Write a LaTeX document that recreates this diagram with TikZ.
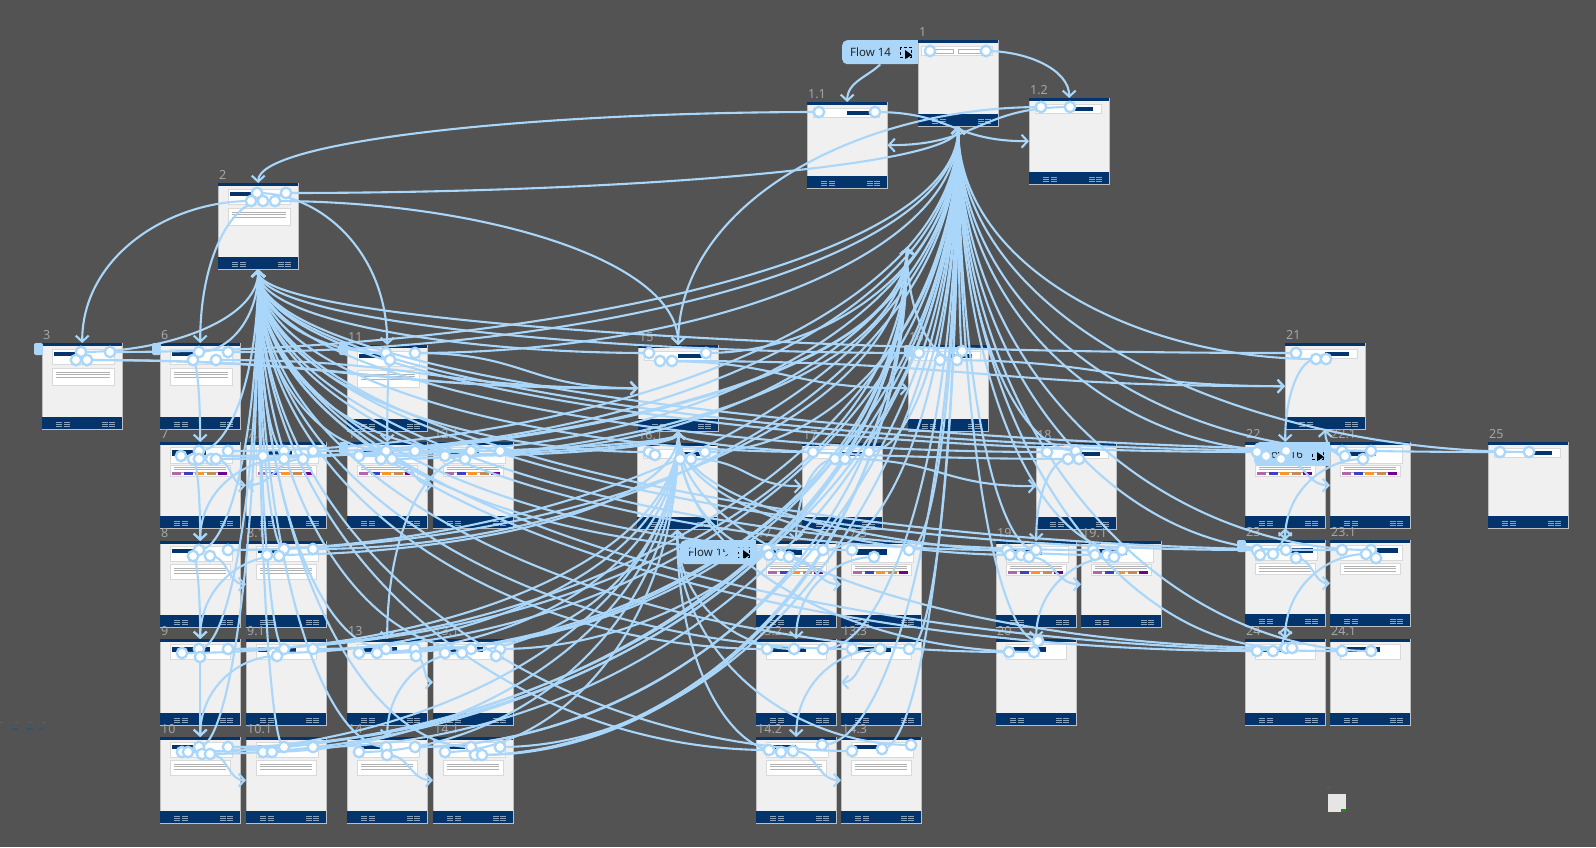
\documentclass[tikz,border=0pt]{standalone}
\usepackage{fontspec}
\setmainfont{Noto Sans}
\usetikzlibrary{calc,arrows.meta}

\definecolor{canvas}{HTML}{535353}
\definecolor{flowblue}{HTML}{A9D6F9}
\definecolor{navy}{HTML}{03346B}
\definecolor{paper}{HTML}{F0F0F0}

\pgfdeclarelayer{tiles}
\pgfdeclarelayer{links}
\pgfsetlayers{tiles,links,main}

\tikzset{
  tile/.style={rectangle,anchor=north west,fill=paper,draw=black!25,line width=.4pt,
               minimum width=80pt,minimum height=86pt,inner sep=0pt},
  tilelabel/.style={anchor=south west,text=black!35,font=\fontsize{12.5}{13}\selectfont,inner sep=0pt},
  hotspot/.style={circle,fill=white,draw=flowblue,line width=2.3pt,minimum size=10.5pt,inner sep=0pt},
  flowline/.style={draw=flowblue,line width=2.1pt,-{Straight Barb[length=6pt,width=13pt]}},
  flowbadge/.style={rectangle,rounded corners=5pt,fill=flowblue,minimum width=76pt,minimum height=24pt,
                    inner sep=0pt,anchor=north west},
  stub/.style={fill=flowblue,rounded corners=2pt},
  card/.style={fill=white,draw=black!15,line width=.3pt},
  tiny/.style={draw=white!55!navy,line width=.35pt}
}

% vertical entry at a frame edge
\newcommand{\flowlink}[2]{\draw[flowline] (#1.center) .. controls ($(#1.center)!.5!(#2 |- #1.center)$) and ($(#2)!.6!(#2 |- #1.center)$) .. (#2);}
% horizontal entry at a frame side
\newcommand{\sidelink}[2]{\draw[flowline] (#1.center) .. controls ($(#1.center)!.5!(#1.center -| #2)$) and ($(#2)!.5!(#1.center |- #2)$) .. (#2);}
\newcommand{\spots}[2]{\foreach \dx/\dy [count=\i] in {#2} {\node[hotspot] (#1h\i) at ($(#1.north west)+(\dx,\dy)$) {};}}
\newcommand{\badge}[4]{%
  \node[flowbadge] (#1) at (#2,#3) {};
  \fill[flowblue] (#2+68,#3) rectangle (#2+76,#3+24);
  \node[anchor=west,font=\fontsize{11.5}{12}\selectfont,text=black!85,inner sep=0pt] (#1-text) at (#2+8,#3+12) {#4};
  \draw[black,line width=.9pt,densely dashed] (#2+58,#3+7) rectangle (#2+69,#3+17);
  \fill[black] (#2+63,#3+10) -- (#2+63,#3+19) -- (#2+70,#3+15) -- cycle;
}

% frame contents
\newcommand{\bars}[3]{\foreach \r in {0,1,2} {\draw[black!30,line width=.4pt] (#1,#2+\r*2.5) -- (#3,#2+\r*2.5);}}
\newcommand{\carda}{\fill[card] (6,6) rectangle (72,15); \fill[navy] (40,9) rectangle (64,13);}
\newcommand{\cardg}{\fill[card] (3,6) rectangle (74,15); \draw[black!30,line width=.4pt] (15,9) rectangle (35,13) (40,9) rectangle (62,13);}
\newcommand{\cardb}{\fill[card] (10,6) rectangle (72,21); \fill[navy] (12,9) rectangle (36,13);
  \fill[card] (10,25) rectangle (72,42); \bars{14}{29}{68}}
\newcommand{\cardc}{\fill[card] (10,5) rectangle (72,21); \fill[navy] (12,8) rectangle (46,14);
  \fill[card] (10,23) rectangle (70,34); \bars{14}{25}{66}
  \foreach \col [count=\c from 0] in {violet!60,blue!50!gray,orange!85,brown!90,violet!90!blue} {\fill[\col] (12+\c*11.5,30) rectangle (21+\c*11.5,33);}}
\newcommand{\cardd}{\fill[card] (10,5) rectangle (72,20); \fill[navy] (40,8) rectangle (68,13);
  \fill[card] (10,23) rectangle (70,34); \bars{14}{26}{66}}
\newcommand{\carde}{\fill[card] (10,5) rectangle (72,20); \fill[navy] (12,8) rectangle (40,12);
  \fill[card] (10,23) rectangle (70,38); \bars{14}{27}{66}}
\newcommand{\cardf}{\fill[card] (10,5) rectangle (70,20); \fill[navy] (12,8) rectangle (50,13);}

\begin{document}
\begin{tikzpicture}[x=1pt,y=-1pt]
\useasboundingbox (0,0) rectangle (1596,847);

\begin{pgfonlayer}{tiles}
\fill[canvas] (0,0) rectangle (1596,847);
\foreach \n/\x/\y/\lab/\k in {
  t1/918/40/1/g, t1a/807/102/1.1/a, t1b/1029/98/1.2/a, t2/218/183/2/b,
  t3/42/343/3/b, t6/160/343/6/b, t11/347/345/11/b, t15/638/345/15/a, t16/908/345/16/a, t21/1285/343/21/a,
  t7/160/442/7/c, t7a/246/442/7.1/c, t12/347/442/12/c, t12a/433/442/12.1/c,
  t16a/637/443/16.1/a, t17/802/443/17/a, t18/1036/443/18/a,
  t22/1245/442/22/c, t22a/1330/442/22.1/c, t25/1488/442/25/a,
  t8/160/541/8/e, t8a/246/541/8.1/e, t17b/756/541/17.2/c, t17c/841/541/17.3/c,
  t19/996/541/19/c, t19a/1081/541/19.1/c, t23/1245/540/23/d, t23a/1330/540/23.1/d,
  t9/160/639/9/f, t9a/246/639/9.1/f, t13/347/639/13/f, t13a/433/639/13.1/f,
  t13b/756/639/13.2/f, t13c/841/639/13.3/f, t20/996/639/20/f, t24/1245/639/24/f, t24a/1330/639/24.1/f,
  t10/160/737/10/e, t10a/246/737/10.1/e, t14/347/737/14/e, t14a/433/737/14.1/e,
  t14b/756/737/14.2/e, t14c/841/737/14.3/e}{
  \node[tile] (\n) at (\x,\y) {};
  \node[tilelabel] (\n-lab) at (\x+1,\y-3) {\lab};
  \begin{scope}[shift={(\x,\y)}]
    \fill[navy] (0,0) rectangle (80,3);
    \fill[navy] (0,74) rectangle (80,86);
    \foreach \fx in {14,22,60,67} {\draw[tiny] (\fx,79) -- ++(6,0) (\fx,81) -- ++(6,0) (\fx,83) -- ++(6,0);}
    \csname card\k\endcsname
  \end{scope}
}
%
\badge{flowA}{842}{40}{Flow 14}
\badge{flowB}{680}{540}{Flow 15}
\badge{flowC}{1254}{442}{Flow 16}
\foreach \px/\py in {34/343,152/343,339/343,339/442,904/345,1237/540} {\fill[stub] (\px,\py) rectangle (\px+9,\py+12);}
% stray bits at the edges
\foreach \px/\py in {2/723,17/723,31/723,44/723,1329/788} {\node[text=black!30,font=\fontsize{4}{4}\selectfont,inner sep=0pt] (dots\px) at (\px,\py) {...};}
\foreach \px/\wd in {12/6,26/7,39/4} {\fill[navy!60!gray] (\px,728) rectangle (\px+\wd,730);}
\fill[white!90!black] (1328,794) rectangle (1346,812);
\fill[green!60!black] (1341,809) rectangle (1346,812);
\end{pgfonlayer}

\coordinate (hubB) at (907,247);

\spots{t1}{12/11,68/11}
\spots{t1a}{12/10,68/10}
\spots{t1b}{12/9,41/9}
\spots{t2}{39/10,68/10,33/18,45/18,57/18}
\spots{t3}{39/9,68/9,34/17,45/17}
\spots{t6}{39/9,68/9,33/17,56/17}
\spots{t11}{39/8,68/8,43/15}
\spots{t15}{11/8,68/8,22/16,34/16}
\spots{t16}{11/8,54/6,32/15,49/15}
\spots{t21}{11/10,31/16,41/16}
\spots{t7}{39/9,68/9,21/14,33/17,39/17,51/17,56/17}
\spots{t7a}{38/9,67/9,17/14,38/17,57/17}
\spots{t12}{39/9,68/9,12/14,34/17,45/17}
\spots{t12a}{38/9,67/9,12/14,32/17}
\spots{t16a}{12/9,68/9,18/12,43/16,54/16}
\spots{t17}{11/9,67/9,33/16,43/16}
\spots{t18}{11/9,40/8,32/16,43/16}
\spots{t22}{12/10,41/9,21/14,36/17}
\spots{t22a}{12/9,41/9,15/14,33/17}
\spots{t25}{12/10,41/10}
\spots{t8}{39/9,68/9,33/15,50/15}
\spots{t8a}{38/8,67/8,21/14,33/15}
\spots{t17b}{11/8,67/9,13/14,25/14,33/16}
\spots{t17c}{11/9,68/9,33/16}
\spots{t19}{11/9,40/9,14/14,25/14,33/16}
\spots{t19a}{12/9,41/9,14/14,26/14,33/16}
\spots{t23}{12/10,41/10,15/15,28/14,51/18}
\spots{t23a}{12/10,41/10,36/14,46/18}
\spots{t9}{39/10,68/10,22/14,40/18}
\spots{t9a}{38/10,67/10,27/14,31/17}
\spots{t13}{39/10,68/10,12/14,30/14,69/17}
\spots{t13a}{38/10,67/10,12/14,29/14,63/17}
\spots{t13b}{11/10,67/10,38/10}
\spots{t13c}{11/10,68/10,39/10}
\spots{t20}{13/13,42/2,38/13}
\spots{t24}{12/12,41/9,28/12,47/9}
\spots{t24a}{12/12,41/12}
\spots{t10}{39/10,68/10,22/15,28/15,42/17,50/17}
\spots{t10a}{38/10,67/10,17/15,26/15}
\spots{t14}{39/10,68/10,12/15,40/18}
\spots{t14a}{38/10,67/10,12/15,42/18,49/18}
\spots{t14b}{13/13,66/8,25/15,37/14}
\spots{t14c}{11/14,41/12,70/8}

\begin{pgfonlayer}{links}
% back to frame 2
\foreach \s in {t3h1,t6h1,t11h1,t15h1,t16h1,t21h1,t7h1,t7ah1,t12h1,t12ah1,t16ah1,t17h1,t18h1,t22h1,t22ah1,t25h1,
  t8h1,t8ah1,t17bh1,t17ch1,t19h1,t19ah1,t23h1,t23ah1,t9h1,t9ah1,t13h1,t13ah1,t13bh1,t13ch1,t20h1,t24h1,t24ah1,
  t10h1,t10ah1,t14h1,t14ah1,t14bh1,t14ch1} {\flowlink{\s}{t2.south}}
% back to frame 1
\foreach \s in {t2h2,t3h2,t6h2,t11h2,t15h2,t16h2,t21h2,t7h2,t7ah2,t12h2,t12ah2,t16ah2,t17h2,t18h2,t22h2,t22ah2,t25h2,
  t8h2,t8ah2,t17bh2,t17ch2,t19h2,t19ah2,t23h2,t23ah2,t9h2,t9ah2,t13h2,t13ah2,t13bh2,t13ch2,t20h2,t24h2,t24ah2,
  t10h2,t10ah2,t14h2,t14ah2,t14bh2,t14ch2} {\flowlink{\s}{t1.south}}
% the two inner fans
\foreach \s in {t9h3,t9ah3,t13h3,t13ah3,t10h3,t10ah3,t14h3,t14ah3,t8ah3,t7h3,t12h3,t12ah3,t17bh4,t19h4,t19ah4,t20h3,t18h4,t24h4}
  {\flowlink{\s}{t15.south}}
\foreach \s in {t7h5,t7h6,t12h4,t13h4,t10h4,t10h5,t14ah4,t8h2,t9h2,t13h2,t10h2,t14h2,t16h4,t14ah5} {\flowlink{\s}{hubB}}
\foreach \s in {t14bh3,t14ch3,t13bh3} {\flowlink{\s}{t16a.south}}
% top of the board
\draw[flowline] (flowA.south) .. controls +(-12,12) and +(0,-20) .. (t1a.north);
\flowlink{t1h2}{t1b.north}
\flowlink{t1ah1}{t2.north}
\flowlink{t1bh1}{t15.north}
\sidelink{t1ah2}{t1b.west}
\sidelink{t1bh2}{t1a.east}
% frame 2 and the row below it
\flowlink{t2h1}{t11.north}
\flowlink{t2h3}{t3.north}
\flowlink{t2h4}{t6.north}
\flowlink{t2h5}{t15.north}
\flowlink{t6h3}{t7.north}
\flowlink{t11h3}{t12.north}
\sidelink{t3h3}{t15.west}
\sidelink{t3h4}{t15.west}
\sidelink{t6h4}{t15.west}
\sidelink{t11h2}{t15.west}
\sidelink{t15h3}{t16.west}
\sidelink{t16h3}{t21.west}
\sidelink{t15h4}{t21.west}
% left columns
\flowlink{t7h4}{t8.north}
\flowlink{t7ah4}{t8.north}
\flowlink{t8h3}{t9.north}
\flowlink{t8ah4}{t9.north}
\flowlink{t9h4}{t10.north}
\flowlink{t9ah4}{t10.north}
\flowlink{t12ah4}{t13.north}
\flowlink{t13ah4}{t14.north}
\sidelink{t7h7}{t7a.west}
\sidelink{t7ah5}{t7a.west}
\sidelink{t8h4}{t8a.west}
\sidelink{t10h6}{t10a.west}
\sidelink{t12h5}{t12a.west}
\sidelink{t13h5}{t13a.west}
\sidelink{t14h4}{t14a.west}
% middle columns
\sidelink{t16ah5}{t17.west}
\flowlink{t17h3}{t17b.north}
\sidelink{t17bh5}{t17c.west}
\flowlink{t17ch3}{t13b.north}
\sidelink{t13ch3}{t13c.west}
\flowlink{t13ch3}{t14b.north}
\sidelink{t14bh4}{t14c.west}
\sidelink{t17h4}{t18.west}
\flowlink{t18h3}{t19.north}
\sidelink{t19h5}{t19a.west}
\flowlink{t19ah5}{t20.north}
% right columns
\flowlink{t21h2}{t22.north}
\sidelink{t22h4}{t22a.west}
\flowlink{t22ah4}{t23.north}
\flowlink{t22ah3}{t21.south}
\flowlink{t23h3}{t22.south}
\sidelink{t23h5}{t23a.west}
\flowlink{t23ah3}{t24.north}
\flowlink{t24h3}{t23.south}
\end{pgfonlayer}
\end{tikzpicture}
\end{document}
